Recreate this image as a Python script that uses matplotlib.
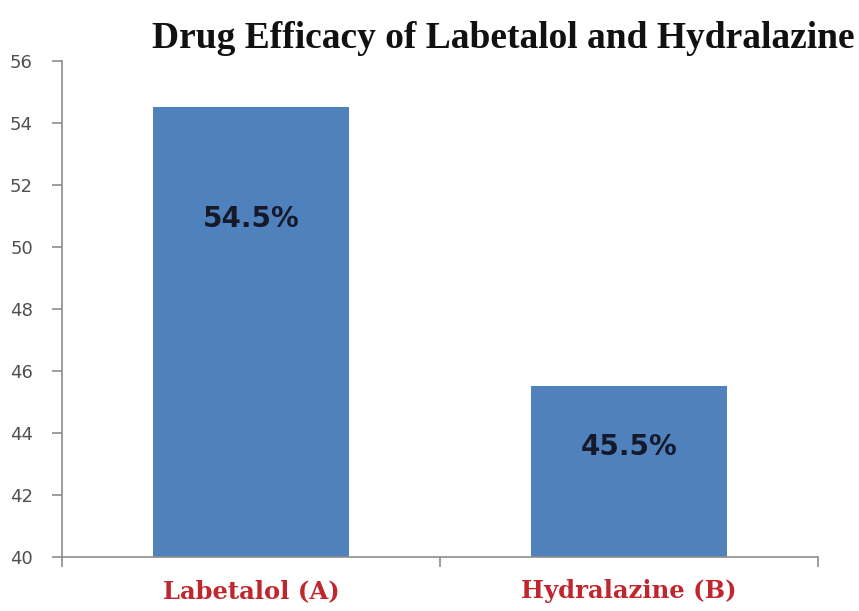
import matplotlib
matplotlib.use("Agg")
import matplotlib.pyplot as plt
from matplotlib.ticker import FixedLocator

# data
drugs = ["Labetalol (A)", "Hydralazine (B)"]
efficacy = [54.5, 45.5]
bar_labels = ["54.5%", "45.5%"]
label_y = [50.9, 43.55]   # where the percentage text sits inside each bar
y_ticks = [40, 42, 44, 46, 48, 50, 52, 54, 56]

bar_color = "#4F81BD"
axis_color = "#8C8C8C"
label_red = "#C0262D"

fig = plt.figure(figsize=(8.59, 6.11), dpi=100)
ax = fig.add_axes([0.0722, 0.0884, 0.880, 0.8118])

x = list(range(len(drugs)))
ax.bar(x, efficacy, width=0.52, color=bar_color, zorder=2)

for xi, txt, yy in zip(x, bar_labels, label_y):
    ax.text(xi, yy, txt, ha="center", va="center", fontsize=20,
            fontweight="bold", color="#15192A", zorder=3)

ax.set_ylim(40, 56)
ax.set_xlim(-0.5, 1.5)
ax.set_yticks(y_ticks)
ax.set_yticklabels([str(t) for t in y_ticks])

ax.set_xticks(x)
ax.set_xticklabels(drugs)
ax.xaxis.set_minor_locator(FixedLocator([-0.5, 0.5, 1.5]))
ax.tick_params(axis="x", which="major", length=0, pad=16)
ax.tick_params(axis="x", which="minor", length=7, color=axis_color, width=1.2)
ax.tick_params(axis="y", length=7, color=axis_color, width=1.2, pad=14,
               labelsize=13, labelcolor="#505050")
for lab in ax.get_xticklabels():
    lab.set_fontfamily("DejaVu Serif")
    lab.set_fontweight("bold")
    lab.set_fontsize(17.5)
    lab.set_color(label_red)

for side in ["top", "right"]:
    ax.spines[side].set_visible(False)
for side in ["left", "bottom"]:
    ax.spines[side].set_color(axis_color)
    ax.spines[side].set_linewidth(1.2)

fig.text(0.586, 0.937, "Drug Efficacy of Labetalol and Hydralazine",
         ha="center", va="center", fontsize=27, fontweight="bold",
         fontfamily="Liberation Serif", color="#111111")

fig.savefig("out.png", dpi=100)
